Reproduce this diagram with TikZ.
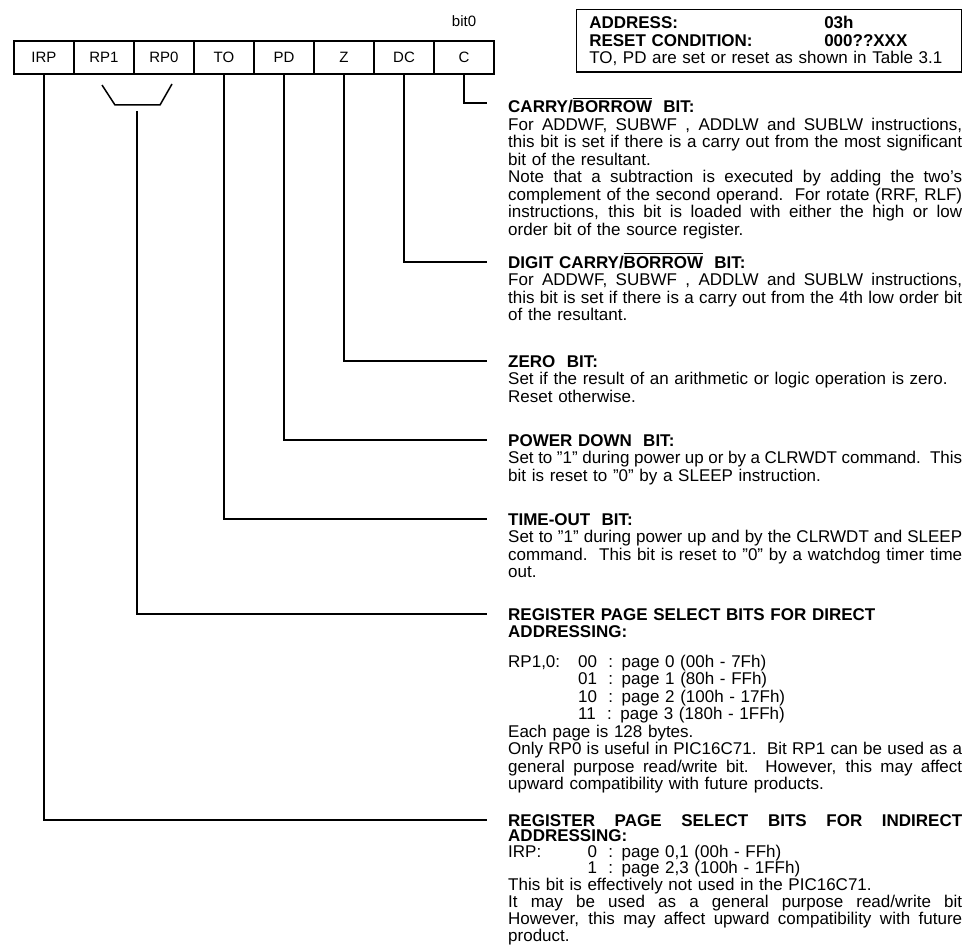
\documentclass[tikz,border=0pt]{standalone}
\usepackage{fontspec}
\setmainfont{Liberation Sans}
\usetikzlibrary{positioning}

\newcommand{\descfont}{\fontsize{17}{17.5}\selectfont}
\newcommand{\tightfont}{\fontsize{17}{15.5}\selectfont}
\newcommand{\bitfont}{\fontsize{15}{15}\selectfont}
\newlength{\ovlen}
\newcommand{\ovtext}[1]{\settowidth{\ovlen}{#1}\rlap{\rule[14pt]{\ovlen}{1.3pt}}#1}
\newcommand{\jline}[1]{{\spaceskip=0pt\xspaceskip=0pt\makebox[\hsize][s]{#1}}}
\newcommand{\pagecol}[1]{\makebox[70pt][l]{#1}}

\tikzset{
  regbit/.style={draw,line width=1.5pt,minimum width=60pt,minimum height=33pt,
    inner sep=0pt,font=\bitfont},
  desc/.style={anchor=base west,text width=454pt,align=left,inner sep=0pt,
    font=\descfont},
  wire/.style={line width=1.5pt},
}

\begin{document}
\begin{tikzpicture}[x=1pt,y=-1pt]
  \useasboundingbox (0,0) rectangle (966,947);

  % register bits
  \node[regbit] (irp) at (44,57.5) {IRP};
  \node[regbit] (rpone) at (104,57.5) {RP1};
  \node[regbit] (rpzero) at (164,57.5) {RP0};
  \node[regbit] (to) at (224,57.5) {TO};
  \node[regbit] (pd) at (284,57.5) {PD};
  \node[regbit] (z) at (344,57.5) {Z};
  \node[regbit] (dc) at (404,57.5) {DC};
  \node[regbit] (c) at (464,57.5) {C};
  \node[font=\bitfont,inner sep=0pt] (bitzero) [above=13pt of c] {bit0};

  % address box
  \node[draw,line width=1.5pt,anchor=north east,text width=359pt,
    inner xsep=13pt,inner ysep=6.5pt,align=left,font=\descfont] (addr) at (962,9)
    {\textbf{\makebox[235pt][l]{ADDRESS:}03h}\\
     \textbf{\makebox[235pt][l]{RESET CONDITION:}000??XXX}\\
     TO, PD are set or reset as shown in Table 3.1};

  % descriptions
  \node[desc] (cdesc) at (508,113)
    {\textbf{CARRY/\ovtext{BORROW}\ \ BIT:}\\
     \jline{For ADDWF, SUBWF , ADDLW and SUBLW instructions,}\\
     \jline{this bit is set if there is a carry out from the most significant}\\
     bit of the resultant.\\
     \jline{Note that a subtraction is executed by adding the two's}\\
     \jline{complement of the second operand.\ \ For rotate (RRF, RLF)}\\
     \jline{instructions, this bit is loaded with either the high or low}\\
     order bit of the source register.};
  \node[desc] (dcdesc) at (508,268)
    {\textbf{DIGIT CARRY/\ovtext{BORROW}\ \ BIT:}\\
     \jline{For ADDWF, SUBWF , ADDLW and SUBLW instructions,}\\
     \jline{this bit is set if there is a carry out from the 4th low order bit}\\
     of the resultant.};
  \node[desc] (zdesc) at (508,367)
    {\textbf{ZERO\ \ BIT:}\\
     Set if the result of an arithmetic or logic operation is zero.\\
     Reset otherwise.};
  \node[desc] (pddesc) at (508,446)
    {\textbf{POWER DOWN\ \ BIT:}\\
     \jline{Set to "1" during power up or by a CLRWDT command.\ \ This}\\
     bit is reset to "0" by a SLEEP instruction.};
  \node[desc] (todesc) at (508,525)
    {\textbf{TIME-OUT\ \ BIT:}\\
     \jline{Set to "1" during power up and by the CLRWDT and SLEEP}\\
     \jline{command.\ \ This bit is reset to "0" by a watchdog timer time}\\
     out.};
  \node[desc] (rpdesc) at (508,620)
    {\textbf{REGISTER PAGE SELECT BITS FOR DIRECT}\\
     \textbf{ADDRESSING:}\\[12pt]
     \pagecol{RP1,0:}00\ \ : page 0 (00h - 7Fh)\\
     \pagecol{}01\ \ : page 1 (80h - FFh)\\
     \pagecol{}10\ \ : page 2 (100h - 17Fh)\\
     \pagecol{}11\ \ : page 3 (180h - 1FFh)\\
     Each page is 128 bytes.\\
     \jline{Only RP0 is useful in PIC16C71.\ \ Bit RP1 can be used as a}\\
     \jline{general purpose read/write bit.\ \ However, this may affect}\\
     upward compatibility with future products.};
  \node[desc,font=\tightfont] (irpdesc) at (508,826)
    {\jline{\textbf{REGISTER PAGE SELECT BITS FOR INDIRECT}}\\
     \textbf{ADDRESSING:}\\
     \pagecol{IRP:}\phantom{0}0\ \ : page 0,1 (00h - FFh)\\
     \pagecol{}\phantom{0}1\ \ : page 2,3 (100h - 1FFh)\\
     This bit is effectively not used in the PIC16C71.\\
     \jline{It may be used as a general purpose read/write bit}\\
     \jline{However, this may affect upward compatibility with future}\\
     product.};

  % connectors
  \draw[wire] (c.south) |- ([xshift=-21pt,yshift=10pt]cdesc.base west);
  \draw[wire] (dc.south) |- ([xshift=-21pt,yshift=6pt]dcdesc.base west);
  \draw[wire] (z.south) |- ([xshift=-21pt,yshift=6pt]zdesc.base west);
  \draw[wire] (pd.south) |- ([xshift=-21pt,yshift=6pt]pddesc.base west);
  \draw[wire] (to.south) |- ([xshift=-21pt,yshift=6pt]todesc.base west);
  \coordinate (rpl) at (102,85);
  \coordinate (rpbl) at (115,105);
  \coordinate (rpbr) at (160,105);
  \coordinate (rpr) at (172,84);
  \coordinate (rpstem) at (137,111);
  \draw[wire] (rpl) -- (rpbl) -- (rpbr) -- (rpr);
  \draw[wire] (rpstem) |- ([xshift=-21pt,yshift=6pt]rpdesc.base west);
  \draw[wire] (irp.south) |- ([xshift=-21pt,yshift=6pt]irpdesc.base west);
\end{tikzpicture}
\end{document}
